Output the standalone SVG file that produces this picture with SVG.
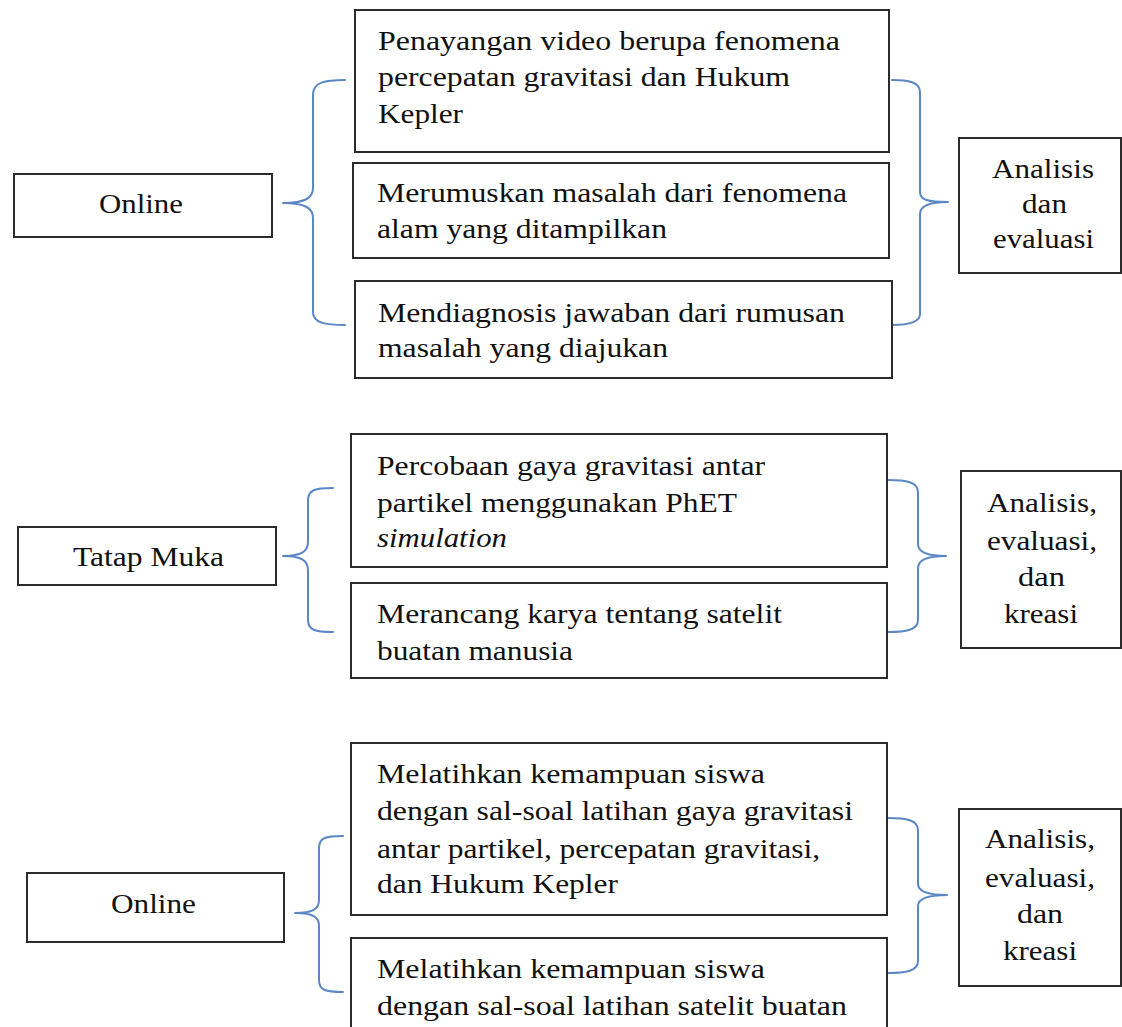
<svg xmlns="http://www.w3.org/2000/svg" width="1122" height="1027" viewBox="0 0 1122 1027">
<style>
.box{fill:#fff;stroke:#2b2b2b;stroke-width:2}
.t{font-family:'Liberation Serif','Times New Roman',Times,serif;font-size:27px;fill:#111}
.i{font-style:italic}
.br{fill:none;stroke:#5b87c5;stroke-width:2;stroke-linejoin:round;stroke-linecap:round}
</style>
<rect width="1122" height="1027" fill="#fff"/>

<g id="connectors">
<path class="br" d="M345,80 C325,80 313,82 313,95 L313,188 C313,198 305,203 283,203 C305,203 313,208 313,218 L313,312 C313,323 325,325 345,325"/>
<path class="br" d="M892,80 C908,80 920,82 920,92 L920,192 C920,200 928,202 948,202 C928,202 920,206 920,214 L920,314 C920,322 908,325 892,325"/>
<path class="br" d="M333,488 C315,488 308,490 308,500 L308,542 C308,551 302,556 283,556 C302,556 308,561 308,570 L308,620 C308,630 315,632 333,632"/>
<path class="br" d="M888,480 C906,480 918,482 918,492 L918,544 C918,552 926,556 946,556 C926,556 918,560 918,568 L918,620 C918,630 906,632 888,632"/>
<path class="br" d="M343,836 C325,836 319,838 319,848 L319,900 C319,909 313,913 295,913 C313,913 319,917 319,926 L319,980 C319,990 325,992 343,992"/>
<path class="br" d="M888,818 C906,818 918,820 918,830 L918,884 C918,891 926,895 947,895 C926,895 918,899 918,906 L918,961 C918,971 906,973 888,973"/>
</g>

<g id="online1">
<rect class="box" x="14" y="174" width="258" height="63"/>
<text class="t" font-family="Liberation Serif, serif" x="99" y="213" textLength="84" lengthAdjust="spacingAndGlyphs">Online</text>
</g>

<g id="box1">
<rect class="box" x="355" y="10" width="534" height="142"/>
<text class="t" font-family="Liberation Serif, serif" x="378" y="50" textLength="462" lengthAdjust="spacingAndGlyphs">Penayangan video berupa fenomena</text>
<text class="t" font-family="Liberation Serif, serif" x="378" y="86" textLength="412" lengthAdjust="spacingAndGlyphs">percepatan gravitasi dan Hukum</text>
<text class="t" font-family="Liberation Serif, serif" x="378" y="123" textLength="85" lengthAdjust="spacingAndGlyphs">Kepler</text>
</g>

<g id="box2">
<rect class="box" x="353" y="163" width="536" height="95"/>
<text class="t" font-family="Liberation Serif, serif" x="377" y="202" textLength="470" lengthAdjust="spacingAndGlyphs">Merumuskan masalah dari fenomena</text>
<text class="t" font-family="Liberation Serif, serif" x="377" y="238" textLength="290" lengthAdjust="spacingAndGlyphs">alam yang ditampilkan</text>
</g>

<g id="box3">
<rect class="box" x="355" y="281" width="537" height="97"/>
<text class="t" font-family="Liberation Serif, serif" x="378" y="322" textLength="467" lengthAdjust="spacingAndGlyphs">Mendiagnosis jawaban dari rumusan</text>
<text class="t" font-family="Liberation Serif, serif" x="378" y="357" textLength="290" lengthAdjust="spacingAndGlyphs">masalah yang diajukan</text>
</g>

<g id="result1">
<rect class="box" x="959" y="138" width="162" height="135"/>
<text class="t" font-family="Liberation Serif, serif" x="992" y="178" textLength="102" lengthAdjust="spacingAndGlyphs">Analisis</text>
<text class="t" font-family="Liberation Serif, serif" x="1022" y="213" textLength="45" lengthAdjust="spacingAndGlyphs">dan</text>
<text class="t" font-family="Liberation Serif, serif" x="993" y="248" textLength="101" lengthAdjust="spacingAndGlyphs">evaluasi</text>
</g>

<g id="tatapmuka">
<rect class="box" x="18" y="527" width="258" height="58"/>
<text class="t" font-family="Liberation Serif, serif" x="73" y="566" textLength="151" lengthAdjust="spacingAndGlyphs">Tatap Muka</text>
</g>

<g id="box4">
<rect class="box" x="351" y="434" width="536" height="133"/>
<text class="t" font-family="Liberation Serif, serif" x="377" y="475" textLength="388" lengthAdjust="spacingAndGlyphs">Percobaan gaya gravitasi antar</text>
<text class="t" font-family="Liberation Serif, serif" x="377" y="512" textLength="360" lengthAdjust="spacingAndGlyphs">partikel menggunakan PhET</text>
<text class="t i" font-family="Liberation Serif, serif" x="377" y="547" textLength="130" lengthAdjust="spacingAndGlyphs">simulation</text>
</g>

<g id="box5">
<rect class="box" x="351" y="583" width="536" height="95"/>
<text class="t" font-family="Liberation Serif, serif" x="377" y="623" textLength="405" lengthAdjust="spacingAndGlyphs">Merancang karya tentang satelit</text>
<text class="t" font-family="Liberation Serif, serif" x="377" y="660" textLength="196" lengthAdjust="spacingAndGlyphs">buatan manusia</text>
</g>

<g id="result2">
<rect class="box" x="961" y="471" width="160" height="177"/>
<text class="t" font-family="Liberation Serif, serif" x="987" y="512" textLength="110" lengthAdjust="spacingAndGlyphs">Analisis,</text>
<text class="t" font-family="Liberation Serif, serif" x="987" y="550" textLength="110" lengthAdjust="spacingAndGlyphs">evaluasi,</text>
<text class="t" font-family="Liberation Serif, serif" x="1018" y="586" textLength="47" lengthAdjust="spacingAndGlyphs">dan</text>
<text class="t" font-family="Liberation Serif, serif" x="1004" y="623" textLength="74" lengthAdjust="spacingAndGlyphs">kreasi</text>
</g>

<g id="online2">
<rect class="box" x="27" y="873" width="257" height="69"/>
<text class="t" font-family="Liberation Serif, serif" x="111" y="913" textLength="85" lengthAdjust="spacingAndGlyphs">Online</text>
</g>

<g id="box6">
<rect class="box" x="351" y="743" width="536" height="172"/>
<text class="t" font-family="Liberation Serif, serif" x="377" y="783" textLength="388" lengthAdjust="spacingAndGlyphs">Melatihkan kemampuan siswa</text>
<text class="t" font-family="Liberation Serif, serif" x="377" y="820" textLength="476" lengthAdjust="spacingAndGlyphs">dengan sal-soal latihan gaya gravitasi</text>
<text class="t" font-family="Liberation Serif, serif" x="377" y="858" textLength="443" lengthAdjust="spacingAndGlyphs">antar partikel, percepatan gravitasi,</text>
<text class="t" font-family="Liberation Serif, serif" x="377" y="893" textLength="241" lengthAdjust="spacingAndGlyphs">dan Hukum Kepler</text>
</g>

<g id="box7">
<rect class="box" x="351" y="938" width="536" height="100"/>
<text class="t" font-family="Liberation Serif, serif" x="377" y="978" textLength="388" lengthAdjust="spacingAndGlyphs">Melatihkan kemampuan siswa</text>
<text class="t" font-family="Liberation Serif, serif" x="377" y="1015" textLength="470" lengthAdjust="spacingAndGlyphs">dengan sal-soal latihan satelit buatan</text>
</g>

<g id="result3">
<rect class="box" x="959" y="809" width="162" height="177"/>
<text class="t" font-family="Liberation Serif, serif" x="985" y="848" textLength="110" lengthAdjust="spacingAndGlyphs">Analisis,</text>
<text class="t" font-family="Liberation Serif, serif" x="985" y="887" textLength="110" lengthAdjust="spacingAndGlyphs">evaluasi,</text>
<text class="t" font-family="Liberation Serif, serif" x="1017" y="923" textLength="46" lengthAdjust="spacingAndGlyphs">dan</text>
<text class="t" font-family="Liberation Serif, serif" x="1003" y="960" textLength="74" lengthAdjust="spacingAndGlyphs">kreasi</text>
</g>
</svg>
